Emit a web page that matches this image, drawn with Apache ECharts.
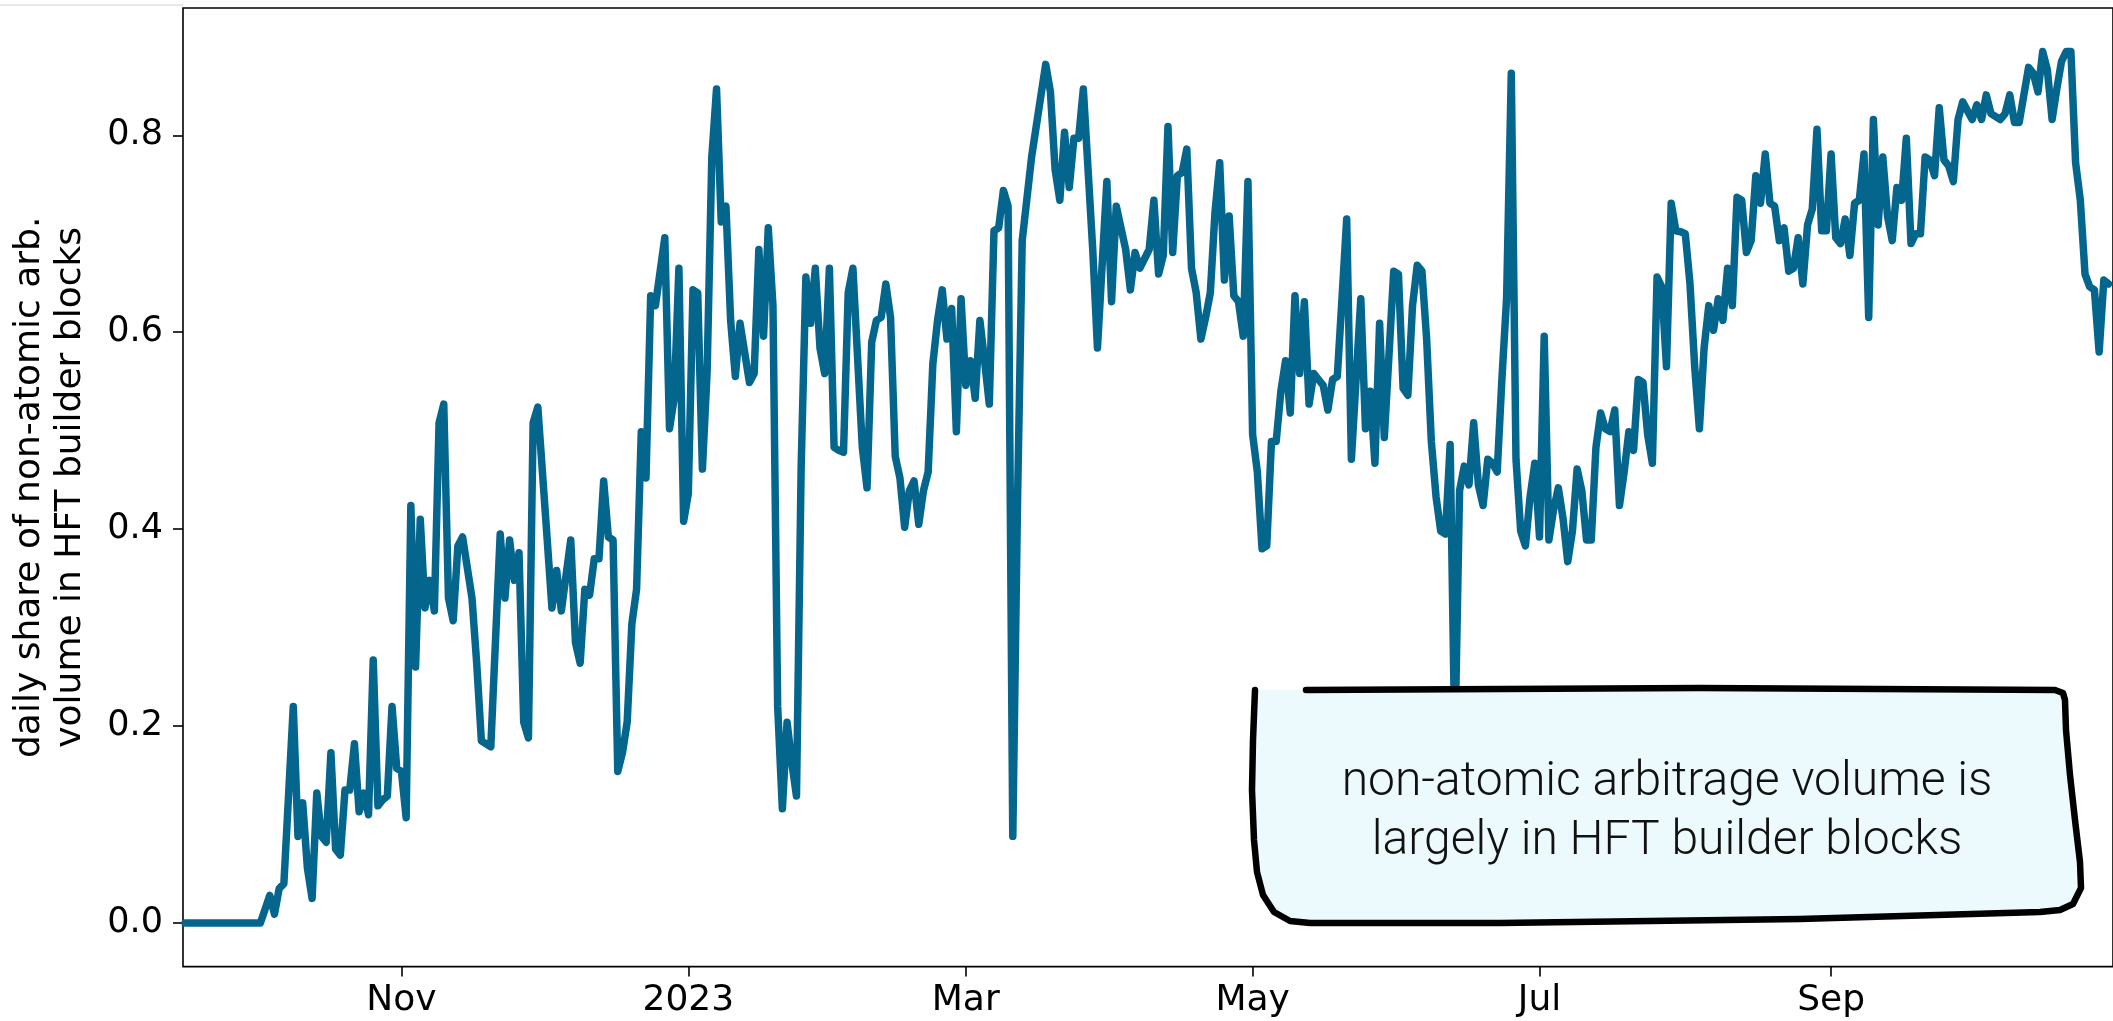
<!DOCTYPE html>
<html>
<head>
<meta charset="utf-8">
<script src="https://cdn.jsdelivr.net/npm/echarts@6/dist/echarts.min.js"></script>
<style>
html,body{margin:0;padding:0;background:#fff;}
#chart{width:2113px;height:1021px;}
</style>
</head>
<body>
<div id="chart"></div>
<script>
// day offsets counted from 2022-09-16
const START_DATE = '2022-09-16';
const dayIndex = [
0,16,18,19,20,21,23,24,25,26,27,28,29,30,31,32,33,34,35,36,37,38,39,40,41,42,43,44,45,46,47,48,49,50,
51,52,53,54,55,56,57,58,59,61,62,63,64,65,67,68,69,70,71,72,73,74,75,77,78,79,80,82,83,84,85,86,87,88,
89,90,91,92,93,94,95,96,97,98,99,100,102,103,104,105,106,107,108,109,110,111,112,113,114,115,116,117,118,
120,121,122,123,124,125,126,127,128,129,130,131,132,133,134,135,136,137,138,139,140,141,142,144,145,146,
147,148,149,150,151,152,153,154,155,156,157,158,159,160,161,162,163,164,165,166,167,168,169,170,171,172,
173,174,175,176,177,178,180,182,183,184,185,186,187,188,189,190,191,193,194,196,197,198,200,201,202,203,
205,206,207,208,209,210,211,212,213,214,215,216,217,218,219,220,221,222,223,224,225,226,227,228,229,230,
231,232,233,234,235,236,237,238,239,240,241,242,243,244,245,246,247,248,250,251,252,253,254,255,257,258,
259,260,261,262,263,264,265,266,267,268,269,270,271,272,273,274,275,276,277,278,279,280,281,282,283,284,
285,286,287,288,289,290,291,292,293,294,295,296,297,298,299,300,301,302,303,304,305,306,307,308,309,310,
311,312,313,314,315,316,317,318,319,320,321,322,323,324,325,326,327,328,329,330,331,332,333,334,335,336,
337,338,339,340,341,342,343,344,345,346,347,348,349,350,351,352,353,354,355,356,357,358,359,360,361,362,
363,364,365,366,367,368,369,370,371,372,373,374,375,376,377,378,379,380,381,382,383,384,385,386,387,388,
389,390,391,392,393,394,395,396,397,398,399,400,401,402,403,404,405,406,407,408,409
];
const shares = [
0,0,0.028,0.009,0.035,0.04,0.22,0.088,0.122,0.056,0.025,0.132,0.088,0.082,0.173,0.075,0.069,0.135,0.135,0.182,0.113,0.132,0.11,0.267,0.119,0.125,0.129,0.22,0.157,0.154,0.107,0.424,0.26,0.41,
0.32,0.348,0.317,0.508,0.527,0.33,0.307,0.383,0.392,0.33,0.264,0.185,0.182,0.179,0.395,0.33,0.389,0.348,0.376,0.204,0.188,0.508,0.524,0.389,0.32,0.358,0.317,0.389,0.285,0.264,0.339,0.333,0.37,0.37,
0.449,0.392,0.389,0.154,0.173,0.204,0.304,0.339,0.499,0.452,0.637,0.627,0.696,0.502,0.533,0.665,0.408,0.436,0.643,0.64,0.461,0.56,0.778,0.847,0.712,0.728,0.612,0.555,0.609,
0.549,0.558,0.684,0.596,0.706,0.627,0.22,0.116,0.204,0.163,0.129,0.464,0.656,0.609,0.665,0.584,0.558,0.665,0.483,0.48,0.478,0.64,0.665,0.483,0.442,0.59,
0.612,0.615,0.649,0.615,0.474,0.452,0.402,0.439,0.449,0.405,0.439,0.458,0.568,0.612,0.643,0.593,0.624,0.499,0.634,0.546,0.571,0.533,0.612,0.571,0.527,0.703,
0.706,0.744,0.728,0.088,0.427,0.693,0.778,0.841,0.872,0.844,0.765,0.734,0.803,0.747,0.797,0.797,0.847,0.684,0.584,0.753,0.631,0.728,0.684,0.643,0.681,0.665,
0.684,0.734,0.659,0.678,0.809,0.681,0.759,0.762,0.786,0.665,0.64,0.593,0.615,0.64,0.722,0.772,0.653,0.718,0.637,0.631,0.596,0.753,0.496,0.458,0.38,0.383,
0.489,0.489,0.54,0.571,0.518,0.637,0.558,0.631,0.527,0.558,0.552,0.546,0.521,0.552,0.555,0.634,0.715,0.471,0.634,0.502,0.54,0.467,0.609,0.493,0.662,0.659,
0.543,0.536,0.627,0.668,0.662,0.593,0.489,0.433,0.398,0.395,0.486,0.18,0.439,0.464,0.445,0.508,0.445,0.424,0.471,0.467,0.458,0.552,0.634,0.863,0.471,0.398,
0.383,0.433,0.467,0.392,0.596,0.389,0.42,0.442,0.411,0.367,0.398,0.461,0.439,0.389,0.389,0.483,0.518,0.502,0.499,0.521,0.424,0.458,0.499,0.48,0.552,0.549,
0.496,0.467,0.656,0.646,0.565,0.731,0.703,0.702,0.7,0.649,0.565,0.502,0.584,0.627,0.602,0.634,0.612,0.665,0.627,0.737,0.734,0.681,0.693,0.759,0.731,0.781,
0.731,0.728,0.693,0.706,0.662,0.665,0.696,0.649,0.709,0.725,0.806,0.703,0.703,0.781,0.696,0.69,0.715,0.678,0.731,0.734,0.781,0.615,0.816,0.709,0.778,0.718,
0.693,0.747,0.734,0.797,0.69,0.7,0.7,0.778,0.775,0.759,0.828,0.775,0.769,0.753,0.816,0.834,0.825,0.816,0.831,0.816,0.841,0.822,0.819,0.816,0.822,0.841,
0.813,0.813,0.841,0.869,0.863,0.844,0.885,0.866,0.816,0.847,0.875,0.885,0.885,0.772,0.734,0.659,0.646,0.643,0.58,0.653,0.649
];
// x tick positions (days from START_DATE) and their labels
const xTickDays = [46, 107, 166, 227, 288, 350];
const xTickLabels = ['Nov', '2023', 'Mar', 'May', 'Jul', 'Sep'];
const yTickValues = [0, 0.2, 0.4, 0.6, 0.8];
const yTitle = 'daily share of non-atomic arb.\nvolume in HFT builder blocks';
const noteText = 'non-atomic arbitrage volume is\nlargely in HFT builder blocks';

const seriesData = dayIndex.map((d, i) => [d, shares[i]]);
const dataMax = Math.max(...shares), dataMin = Math.min(...shares);
const pad = (dataMax - dataMin) * 0.05;

const chart = echarts.init(document.getElementById('chart'), null, {renderer: 'canvas'});

const boxOutline = [
  [1255,690],[1253,740],[1252,790],[1254,840],[1257,872],[1263,895],[1274,912],[1290,921],[1310,923],
  [1500,923],[1800,919],[2040,912],[2060,910],[2073,904],[2081,888],[2080,862],
  [2075,820],[2070,775],[2066,730],[2065,700],[2063,693],[2055,690],[1700,688],[1306,690]
];
const boxFill = boxOutline.concat([[1255,690]]);

chart.setOption({
  animation: false,
  backgroundColor: '#ffffff',
  grid: {left: 183, right: -3, top: 8, bottom: 54.4, show: true, borderColor: '#000', borderWidth: 1.6, backgroundColor: 'transparent'},
  xAxis: {
    type: 'value', min: -0.45, max: 409.95,
    axisLine: {show: false, onZero: false},
    splitLine: {show: false},
    axisTick: {show: true, length: 10, lineStyle: {color: '#000', width: 1.6}, customValues: xTickDays},
    axisLabel: {
      customValues: xTickDays, margin: 16,
      color: '#000', fontFamily: 'DejaVu Sans', fontSize: 36,
      formatter: v => { const i = xTickDays.indexOf(Math.round(v)); return i >= 0 ? xTickLabels[i] : ''; }
    }
  },
  yAxis: {
    type: 'value', min: dataMin - pad, max: dataMax + pad,
    name: yTitle, nameLocation: 'middle', nameRotate: 90, nameGap: 92,
    nameTextStyle: {color: '#000', fontFamily: 'DejaVu Sans', fontSize: 36, lineHeight: 41, align: 'center'},
    axisLine: {show: false, onZero: false},
    splitLine: {show: false},
    axisTick: {show: true, length: 10, lineStyle: {color: '#000', width: 1.6}, customValues: yTickValues},
    axisLabel: {
      customValues: yTickValues, margin: 20,
      color: '#000', fontFamily: 'DejaVu Sans', fontSize: 35,
      formatter: v => v.toFixed(1)
    }
  },
  series: [{
    type: 'line', data: seriesData, showSymbol: false, symbol: 'none',
    lineStyle: {color: '#05668D', width: 7.5, cap: 'round', join: 'round'},
    z: 2
  }],
  graphic: [
    {type: 'line', shape: {x1: 0, y1: 5, x2: 183, y2: 5}, style: {stroke: '#d0d0d0', lineWidth: 1}, z: 1},
    {type: 'polygon', shape: {points: boxFill, smooth: 0}, style: {fill: '#ECFAFD', stroke: null}, z: 100},
    {type: 'polyline', shape: {points: boxOutline, smooth: 0}, style: {stroke: '#000', lineWidth: 6.5, fill: null, lineCap: 'round', lineJoin: 'round'}, z: 101},
    {type: 'text', x: 1667, y: 812, z: 102,
      style: {text: noteText, fill: '#111', font: '300 48px Roboto', lineHeight: 59, textAlign: 'center', textVerticalAlign: 'middle'}}
  ]
});
</script>
</body>
</html>
